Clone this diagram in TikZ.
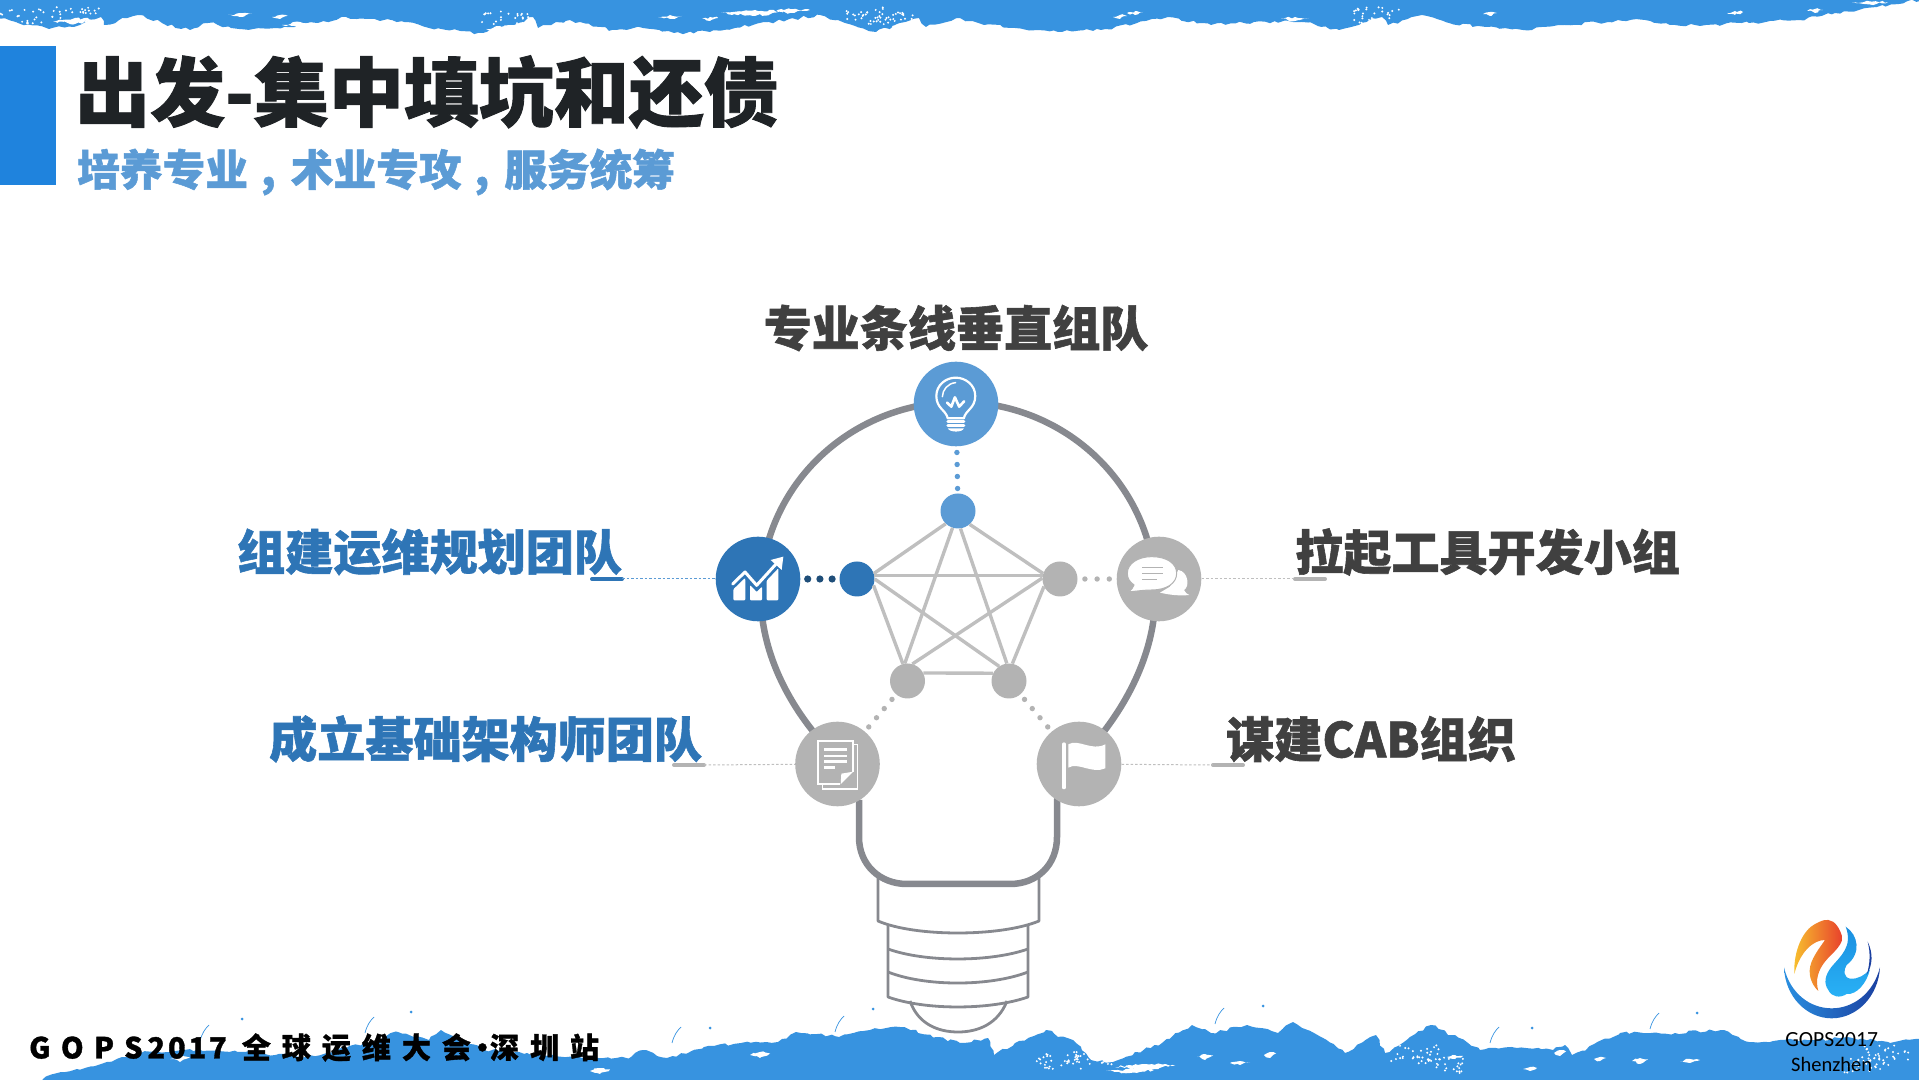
\documentclass[tikz,border=0pt]{standalone}
\usepackage{fontspec}
\usetikzlibrary{decorations.pathmorphing}
\newfontfamily\cjk[BoldFeatures={FakeBold=1.2}]{Noto Sans CJK SC}
\newfontfamily\logofont{Carlito}
\newcommand*\midcomma{\hspace{.3em},\hspace{.35em}}
\definecolor{brushblue}{HTML}{3793E0}
\definecolor{barblue}{HTML}{1F83DD}
\definecolor{lightblue}{HTML}{5B9BD5}
\definecolor{midblue}{HTML}{2E75B6}
\definecolor{navy}{HTML}{1F4E79}
\definecolor{hubgray}{HTML}{B3B3B3}
\definecolor{edgegray}{HTML}{BFBFBF}
\definecolor{bulbgray}{HTML}{87898F}
\definecolor{textdark}{HTML}{404040}
\definecolor{titledark}{HTML}{1F2326}
\definecolor{logoleft}{HTML}{2A8FE0}
\definecolor{logomid}{HTML}{2AA8F5}
\definecolor{logoright}{HTML}{1A3FA0}
\definecolor{logoyellow}{HTML}{F7C02E}
\definecolor{logored}{HTML}{E8402C}
\definecolor{logotop}{HTML}{1B8FE0}
\definecolor{logobottom}{HTML}{29B2F6}
\tikzset{
	brush/.style={fill=brushblue,decorate,decoration={random steps,segment length=5pt,amplitude=1.6pt}},
	fleck/.style={fill=white,decorate,decoration={random steps,segment length=3pt,amplitude=1.2pt}},
	icon/.style={circle,inner sep=0pt,minimum size=84.6pt},
	hub/.style={circle,inner sep=0pt,minimum size=35pt},
	edge/.style={edgegray,line width=3.4pt},
	dots/.style={line width=5.4pt,line cap=round,dash pattern=on 0pt off 12pt,dash phase=6pt},
	wide dots/.style={line width=7.2pt,line cap=round,dash pattern=on 0pt off 12.2pt,dash phase=5pt},
	thin link/.style={line width=1pt,dash pattern=on 2.5pt off 2pt},
	under/.style={line width=4pt,line cap=round},
	ring/.style={bulbgray,line width=6.5pt},
	socket/.style={bulbgray,line width=2.8pt,line join=round},
	tag/.style={font=\cjk\bfseries\fontsize{48.1pt}{50pt}\selectfont,inner sep=0pt}
}
\begin{document}
\begin{tikzpicture}[x=1pt,y=1pt]
	\useasboundingbox (0,0) rectangle (1919,1079);
	\pgfmathsetseed{7}
	% Brush bands
	\fill[brush] (-10,1090) -- (-10,1064) -- (18,1056) -- (49,1050) -- (80,1054) -- (101,1062) -- (104,1054) -- (138,1064) -- (162,1056) -- (190,1049) -- (208,1056) -- (239,1050) -- (276,1051) -- (318,1056) -- (346,1062) -- (404,1057) -- (429,1051) -- (478,1046) -- (514,1054) -- (533,1062) -- (538,1051) -- (570,1059) -- (612,1049) -- (643,1051) -- (674,1046) -- (710,1047) -- (753,1054) -- (820,1064) -- (845,1056) -- (876,1047) -- (919,1061) -- (926,1052) -- (960,1061) -- (984,1054) -- (1015,1051) -- (1058,1047) -- (1101,1049) -- (1137,1056) -- (1168,1062) -- (1211,1054) -- (1254,1057) -- (1302,1057) -- (1339,1049) -- (1382,1062) -- (1388,1054) -- (1422,1064) -- (1449,1056) -- (1486,1052) -- (1523,1049) -- (1565,1054) -- (1608,1057) -- (1645,1059) -- (1675,1054) -- (1706,1054) -- (1749,1056) -- (1798,1059) -- (1835,1066) -- (1877,1072) -- (1930,1081) -- (1930,1090) -- cycle;
	\fill[brush] (40,-10) -- (43,0) -- (61,7) -- (98,14) -- (141,26) -- (184,29) -- (245,27) -- (306,22) -- (367,36) -- (398,47) -- (429,39) -- (441,49) -- (484,29) -- (527,26) -- (582,21) -- (631,22) -- (643,29) -- (667,21) -- (704,32) -- (741,36) -- (778,37) -- (796,47) -- (839,42) -- (870,49) -- (900,52) -- (937,42) -- (960,36) -- (988,41) -- (994,24) -- (1015,36) -- (1046,49) -- (1076,36) -- (1091,19) -- (1113,17) -- (1162,36) -- (1192,54) -- (1211,46) -- (1247,54) -- (1278,46) -- (1293,57) -- (1321,42) -- (1345,26) -- (1376,44) -- (1385,26) -- (1431,54) -- (1468,36) -- (1480,29) -- (1517,31) -- (1553,29) -- (1565,34) -- (1572,24) -- (1620,46) -- (1675,46) -- (1724,49) -- (1749,37) -- (1780,39) -- (1816,39) -- (1847,42) -- (1890,36) -- (1930,42) -- (1930,-10) -- cycle;
	% White flecks in the bands
	\foreach \fx/\fy/\fw/\fh in {75/1058/22/3, 240/1064/12/2, 280/1062/8/2, 300/1054/18/3, 500/1050/14/3, 670/1062/12/2, 710/1060/8/2, 755/1066/34/3, 790/1068/20/2, 1135/1066/8/2, 1120/1062/7/2, 1295/1060/14/2, 1490/1065/7/2, 1735/1066/8/2, 1815/1068/8/2, 1870/1076/18/1.5, 1145/12/30/3, 1205/22/8/3, 1240/16/10/2, 1270/24/6/3, 1455/22/8/2, 1560/26/6/3, 1600/20/6/2, 1640/18/8/3, 1690/18/10/2, 1130/8/24/2, 1530/10/7/2, 600/8/10/3, 180/20/10/3, 760/24/10/3}
		\fill[fleck] (\fx-\fw,\fy) -- (\fx,\fy+\fh) -- (\fx+\fw,\fy+\fh/2) -- (\fx,\fy-\fh) -- cycle;
	\foreach \cx/\cy in {20/1062, 75/1064, 505/1060, 870/1064, 890/1060, 1375/1064, 1060/18, 1090/22, 1415/26, 1440/14, 1865/14, 1885/26}
		\foreach \i in {1,...,28}
			\fill[white] ({\cx+rand*24},{\cy+rand*8}) circle (1.1pt);
	\foreach \sx/\sy in {242/60, 411/67, 710/51, 873/70, 1263/73, 1697/66, 1532/51}
		\fill[brushblue] (\sx,\sy) circle (1.5pt);
	\foreach \wx/\wy in {200/38, 365/46, 672/36, 835/47, 1215/55, 1490/36, 1650/50}
		\draw[brushblue,line width=.7pt] (\wx,\wy) .. controls (\wx+2,\wy+8) and (\wx+5,\wy+12) .. (\wx+9,\wy+16);
	% Title block
	\fill[barblue] (0,894) rectangle (56,1033);
	\node[anchor=west,inner sep=0pt,text=titledark,font=\cjk\bfseries\fontsize{75pt}{80pt}\selectfont] (title) at (75,987) {出发-集中填坑和还债};
	\node[anchor=west,inner sep=0pt,text=lightblue,font=\cjk\bfseries\fontsize{42.7pt}{46pt}\selectfont] (subtitle) at (77,907) {培养专业\midcomma 术业专攻\midcomma 服务统筹};
	\node[anchor=west,inner sep=0pt,font=\cjk\bfseries\fontsize{29pt}{32pt}\selectfont] (footer) at (29,31.5) {{\addfontfeature{LetterSpace=36}GOPS}\,{\addfontfeature{LetterSpace=10}2017}\hspace{15pt}{\addfontfeature{LetterSpace=38}全球运维大会}\kern-3pt{\addfontfeature{LetterSpace=38}·}\kern-7pt{\addfontfeature{LetterSpace=38}深圳站}};
	% Bulb outline
	\draw[ring] (859,279) -- (859,242) .. controls (859,214) and (880,195) .. (907,195) -- (1010,195) .. controls (1037,195) and (1057,214) .. (1057,242) -- (1057,279) -- (1105,349) .. controls (1130,382) and (1148,420) .. (1153.5,459) arc[start angle=-7.8,end angle=187.8,x radius=197.3,y radius=192] .. controls (768,420) and (786,382) .. (812,349) -- (859,279);
	\draw[socket] (878,202) -- (878,158) .. controls (915,142) and (1000,142) .. (1039,158) -- (1039,202);
	\draw[socket] (888,154) -- (888,82) .. controls (925,68.7) and (990,68.7) .. (1028,82) -- (1028,154);
	\draw[socket] (888,130) .. controls (925,116.7) and (990,116.7) .. (1028,130);
	\draw[socket] (888,107) .. controls (925,92.3) and (990,92.3) .. (1028,107);
	\draw[socket] (910,78) .. controls (918,55) and (938,47) .. (958,47) .. controls (978,47) and (998,55) .. (1007,78);
	% Icons and hubs
	\node[icon,fill=lightblue] (topicon) at (956,675) {};
	\node[icon,fill=midblue] (lefticon) at (758,500) {};
	\node[icon,fill=hubgray] (righticon) at (1159,500) {};
	\node[icon,fill=hubgray] (docicon) at (837.5,315) {};
	\node[icon,fill=hubgray] (flagicon) at (1079,315) {};
	\node[hub,fill=lightblue] (tophub) at (958,568) {};
	\node[hub,fill=midblue] (lefthub) at (857,500) {};
	\node[hub,fill=hubgray] (righthub) at (1060,500) {};
	\node[hub,fill=hubgray] (lowlefthub) at (907.5,398) {};
	\node[hub,fill=hubgray] (lowrighthub) at (1009,398) {};
	% Pentagon
	\draw[edge] (tophub.226) -- (lefthub.18);
	\draw[edge] (tophub.311) -- (righthub.162);
	\draw[edge] (tophub.252) -- (lowlefthub.99);
	\draw[edge] (tophub.278) -- (lowrighthub.97);
	\draw[edge] (lefthub.12) -- (righthub.168);
	\draw[edge] (lefthub.0) -- (lowrighthub.124);
	\draw[edge] (lefthub.-21) -- (lowlefthub.105);
	\draw[edge] (righthub.177) -- (lowlefthub.74);
	\draw[edge] (righthub.205) -- (lowrighthub.79);
	\draw[edge] (lowlefthub.27) -- (lowrighthub.154);
	% Dots between icons and hubs
	\draw[dots,lightblue] (topicon) -- (tophub);
	\draw[wide dots,navy] (lefticon) -- (lefthub);
	\draw[dots,hubgray,dash pattern=on 0pt off 12.2pt,dash phase=5pt] (righticon) -- (righthub);
	\draw[dots,hubgray] (docicon) -- (lowlefthub);
	\draw[dots,hubgray] (flagicon) -- (lowrighthub);
	% Labels
	\node[tag,text=textdark] (toplabel) at (956,751) {专业条线垂直组队};
	\node[tag,text=midblue,anchor=west] (leftlabel) at (237,527) {组建运维规划团队};
	\node[tag,text=textdark,anchor=west] (rightlabel) at (1295,527) {拉起工具开发小组};
	\node[tag,text=midblue,anchor=west] (doclabel) at (269,340) {成立基础架构师团队};
	\node[tag,text=textdark,anchor=west] (flaglabel) at (1226,340) {谋建CAB组织};
	% Underlines and thin links
	\coordinate (leftmark) at (622,500);
	\coordinate (rightmark) at (1295,500);
	\coordinate (docmark) at (704,314);
	\coordinate (flagmark) at (1213,314);
	\draw[under,midblue] (leftmark) -- ++(-30,0);
	\draw[under,hubgray] (rightmark) -- ++(30,0);
	\draw[under,hubgray] (docmark) -- ++(-30,0);
	\draw[under,hubgray] (flagmark) -- ++(30,0);
	\draw[thin link,lightblue] (leftmark) -- (lefticon);
	\draw[thin link,edgegray] (righticon) -- (rightmark);
	\draw[thin link,edgegray] (docmark) -- (docicon);
	\draw[thin link,edgegray] (flagicon) -- (flagmark);
	% Bulb glyph
	\begin{scope}[shift={(680,739)},x=.357pt,y=-.3333pt,white,line width=2.2pt,line cap=round,line join=round]
		\draw (750,235) .. controls (745,210) and (718,205) .. (718,168) .. controls (718,135) and (745,113) .. (772,113) .. controls (800,113) and (827,135) .. (827,168) .. controls (827,205) and (800,210) .. (795,235) -- cycle;
		\draw[line width=1.5pt] (735,170) .. controls (735,150) and (750,130) .. (772,128);
		\draw[line width=2.6pt] (748,188) -- (760,200) -- (770,172) -- (782,200) -- (796,184);
		\draw[line width=3pt] (750,245) -- (795,245);
		\draw[line width=3pt] (750,258) -- (795,258);
		\fill (750,265) -- (795,265) .. controls (792,278) and (755,278) .. (750,265) -- cycle;
	\end{scope}
	% Chart glyph
	\begin{scope}[shift={(710,549)},x=.3333pt,y=-.3333pt,white]
		\fill[rounded corners=1pt] (70,178) -- (103,146) -- (106,146) -- (106,211) -- (70,211) -- cycle;
		\fill[rounded corners=1pt] (120,165) -- (140,186) -- (156,170) -- (156,211) -- (120,211) -- cycle;
		\fill[rounded corners=1pt] (170,152) -- (205,115) -- (205,211) -- (170,211) -- cycle;
		\draw[line cap=round,line join=round,midblue,line width=6pt] (68,162) -- (105,126) -- (140,166) -- (200,100);
		\draw[line width=3pt,line cap=round,line join=round] (68,162) -- (105,126) -- (140,166) -- (200,100);
		\fill (220,80) -- (182,90) -- (215,120) -- cycle;
	\end{scope}
	% Chat glyph
	\begin{scope}[shift={(1110,549)},x=.3333pt,y=-.3333pt]
		\fill[white] (205,120) .. controls (235,125) and (240,170) .. (222,180) .. controls (225,188) and (232,193) .. (238,195) .. controls (210,198) and (180,195) .. (150,188) -- (180,170) -- cycle;
		\fill[white,draw=hubgray,line width=1pt] (125,80) .. controls (170,80) and (200,100) .. (200,130) .. controls (200,160) and (170,180) .. (125,180) .. controls (110,180) and (90,182) .. (55,186) .. controls (65,178) and (70,172) .. (72,165) .. controls (58,155) and (52,145) .. (52,130) .. controls (52,100) and (85,80) .. (125,80) -- cycle;
		\foreach \ly/\lx in {113/160, 131/160, 149/140}
			\draw[hubgray,line width=1.6pt] (97,\ly) -- (\lx,\ly);
	\end{scope}
	% Document glyph
	\begin{scope}[shift={(790,364)},x=.3333pt,y=-.3333pt,white]
		\draw[line width=1.5pt] (190,88) -- (203,88) -- (203,222) -- (97,222) -- (97,210);
		\draw[line width=1.7pt] (150,207) -- (85,207) -- (85,77) -- (188,77) -- (188,170);
		\fill (152,208) -- (190,170) -- (154,176) -- cycle;
		\foreach \ly/\lx in {103/170, 123/170, 140/170, 157/136}
			\draw[line width=2.6pt] (103,\ly) -- (\lx,\ly);
	\end{scope}
	% Flag glyph
	\begin{scope}[shift={(790,364)},x=.3333pt,y=-.3333pt,white]
		\draw[line width=3.2pt,line cap=round] (822,87) -- (822,218);
		\fill (835,88) .. controls (865,70) and (905,110) .. (946,88) -- (946,160) .. controls (905,178) and (865,140) .. (835,158) -- cycle;
	\end{scope}
	% Logo
	\begin{scope}[shift={(1700,189)},x=.3333pt,y=-.3333pt]
		\shade[left color=logoleft,middle color=logomid,right color=logoright] (252,232) .. controls (255,320) and (320,385) .. (395,385) .. controls (470,385) and (535,320) .. (540,232) .. controls (520,310) and (460,355) .. (395,355) .. controls (330,355) and (270,310) .. (252,232) -- cycle;
		\shade[left color=logoyellow,right color=logored] (283,252) .. controls (280,180) and (310,120) .. (345,102) .. controls (360,95) and (370,88) .. (385,90) .. controls (405,92) and (420,115) .. (428,145) .. controls (420,175) and (395,190) .. (375,215) .. controls (355,240) and (345,270) .. (355,303) .. controls (335,285) and (320,250) .. (335,215) .. controls (345,190) and (365,165) .. (375,150) .. controls (340,150) and (300,185) .. (283,252) -- cycle;
		\shade[top color=logotop,bottom color=logobottom] (437,110) .. controls (475,135) and (485,190) .. (440,225) .. controls (430,240) and (430,262) .. (450,266) .. controls (475,268) and (495,255) .. (510,238) .. controls (500,280) and (470,315) .. (440,312) .. controls (420,325) and (395,322) .. (385,300) .. controls (370,280) and (375,255) .. (395,230) .. controls (420,200) and (460,170) .. (437,110) -- cycle;
		\fill[logoright] (503,155) .. controls (520,190) and (518,225) .. (500,255) .. controls (510,222) and (512,190) .. (503,155) -- cycle;
		\node[inner sep=0pt,font=\logofont\fontsize{21.6pt}{24pt}\selectfont] (logoyear) at (395,450) {GOPS2017};
		\node[inner sep=0pt,font=\logofont\fontsize{20.5pt}{24pt}\selectfont] (logocity) at (395,524) {Shenzhen};
	\end{scope}
\end{tikzpicture}
\end{document}
